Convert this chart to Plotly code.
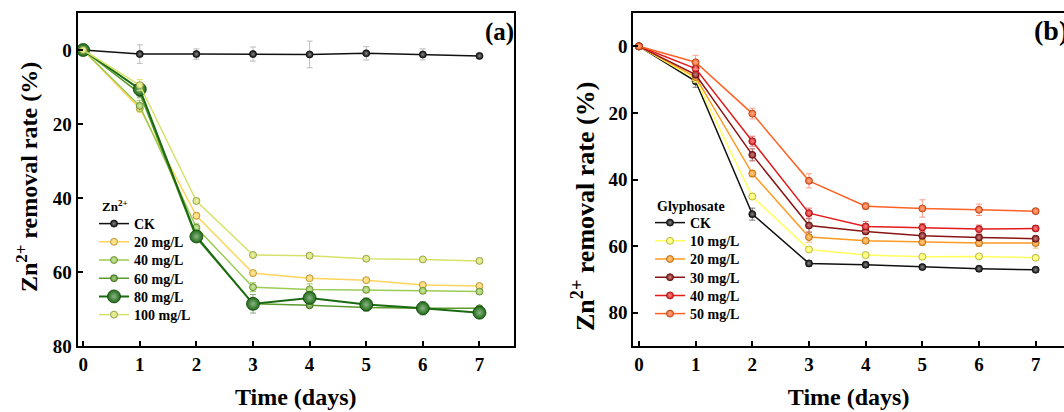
import plotly.graph_objects as go

days = [0, 1, 2, 3, 4, 5, 6, 7]

# Panel (a): Zn2+ treatments
a_names = ["CK", "20 mg/L", "40 mg/L", "60 mg/L", "80 mg/L", "100 mg/L"]
a_ck = [0, 1.1, 1.1, 1.1, 1.2, 0.9, 1.2, 1.6]
a_20 = [0, 15.8, 44.8, 60.3, 61.7, 62.2, 63.5, 63.8]
a_40 = [0, 15.1, 48.0, 64.1, 64.7, 64.8, 65.1, 65.3]
a_60 = [0, 11.7, 50.8, 68.6, 69.0, 69.6, 69.8, 69.8]
a_80 = [0, 10.6, 50.4, 68.6, 67.0, 68.8, 69.8, 71.0]
a_100 = [0, 9.5, 40.8, 55.4, 55.6, 56.4, 56.6, 57.0]
a_err_ck = [0, 2.5, 1.4, 1.9, 3.6, 1.8, 1.5, 0.3]
a_err_20 = [0, 1.0, 0.8, 0.7, 0.6, 0.5, 0.5, 0.4]
a_err_40 = [0, 1.5, 1.0, 1.2, 1.5, 0.8, 0.7, 0.6]
a_err_60 = [0, 1.2, 0.8, 0.8, 0.6, 0.7, 0.6, 0.5]
a_err_80 = [0, 1.5, 1.0, 2.5, 1.0, 1.8, 1.8, 1.2]
a_err_100 = [0, 1.5, 0.6, 0.5, 0.5, 0.5, 0.5, 0.5]

# Panel (b): Glyphosate treatments
b_names = ["CK", "10 mg/L", "20 mg/L", "30 mg/L", "40 mg/L", "50 mg/L"]
b_ck = [0, 10.5, 50.4, 65.2, 65.6, 66.3, 66.8, 67.1]
b_10 = [0, 9.8, 45.1, 61.0, 62.7, 63.2, 63.1, 63.5]
b_20 = [0, 9.2, 38.2, 57.3, 58.4, 58.8, 59.1, 59.1]
b_30 = [0, 8.5, 32.6, 53.8, 55.6, 56.9, 57.4, 57.8]
b_40 = [0, 6.7, 28.5, 50.1, 54.1, 54.4, 54.9, 54.7]
b_50 = [0, 4.8, 20.2, 40.4, 48.0, 48.7, 49.1, 49.5]
b_err_ck = [0, 1.8, 1.8, 0.8, 0.8, 0.7, 0.8, 0.7]
b_err_10 = [0, 1.0, 1.0, 0.8, 0.8, 0.7, 0.6, 0.6]
b_err_20 = [0, 1.0, 1.0, 1.5, 0.8, 1.0, 1.0, 1.5]
b_err_30 = [0, 1.0, 1.8, 2.0, 0.8, 0.8, 0.8, 0.8]
b_err_40 = [0, 1.0, 1.5, 1.5, 1.5, 1.2, 1.2, 0.8]
b_err_50 = [0, 2.1, 1.6, 2.1, 0.9, 2.6, 1.7, 0.6]

x_ticks = [0, 1, 2, 3, 4, 5, 6, 7]
y_ticks_a = [0, 20, 40, 60, 80]
y_ticks_b = [0, 20, 40, 60, 80]

FONT = "Liberation Serif, Times New Roman, serif"
W, H = 1064, 412

a_series = [
    (a_names[0], a_ck, a_err_ck, "#111111", "#BBBBBB", 7, 1.5),
    (a_names[1], a_20, a_err_20, "#FFD45A", "#FFD45A", 7, 1.5),
    (a_names[2], a_40, a_err_40, "#9CCB55", "#9CCB55", 7, 1.5),
    (a_names[3], a_60, a_err_60, "#5C9A2C", "#8DB870", 7, 1.5),
    (a_names[4], a_80, a_err_80, "#1B6A12", "#8AA88A", 13, 2),
    (a_names[5], a_100, a_err_100, "#D6E36A", "#D6E36A", 7, 1.5),
]
b_series = [
    (b_names[0], b_ck, b_err_ck, "#111111", "#777777", 7, 1.5),
    (b_names[1], b_10, b_err_10, "#FFFF5E", "#FFFF9A", 7, 1.5),
    (b_names[2], b_20, b_err_20, "#FF9A22", "#FFB870", 7, 1.5),
    (b_names[3], b_30, b_err_30, "#8A1414", "#B06060", 7, 1.5),
    (b_names[4], b_40, b_err_40, "#E41A1C", "#F07070", 7, 1.5),
    (b_names[5], b_50, b_err_50, "#FF6224", "#FF9A8A", 7, 1.5),
]


def lighten(hexc, f=0.6):
    h = hexc.lstrip("#")
    r, g, b = int(h[0:2], 16), int(h[2:4], 16), int(h[4:6], 16)
    r = int(r + (255 - r) * f)
    g = int(g + (255 - g) * f)
    b = int(b + (255 - b) * f)
    return f"#{r:02X}{g:02X}{b:02X}"


def darken(hexc, f=0.35):
    h = hexc.lstrip("#")
    r, g, b = int(h[0:2], 16), int(h[2:4], 16), int(h[4:6], 16)
    return f"#{int(r*(1-f)):02X}{int(g*(1-f)):02X}{int(b*(1-f)):02X}"


fig = go.Figure()
legends = {}
LEG_FONT = dict(family=FONT, size=14, color="black", weight="bold")
ITEM_STEP = 18.2


def add_panel(series, xa, ya, leg_x, first_center_y, start_idx):
    for i, (name, ys, err, col, ecol, msize, lw) in enumerate(series):
        lid = "legend" if start_idx + i == 1 else f"legend{start_idx + i}"
        fig.add_trace(go.Scatter(
            x=days, y=ys, name=name, mode="lines+markers", showlegend=True,
            line=dict(color=col, width=lw),
            marker=dict(size=msize, color=col,
                        gradient=dict(type="radial", color=lighten(col, 0.5)),
                        line=dict(color=darken(col), width=0.8)),
            error_y=dict(type="data", array=err, visible=True, color=ecol, thickness=1, width=3),
            xaxis=xa, yaxis=ya, legend=lid,
        ))
        cy = first_center_y + i * ITEM_STEP
        legends[lid] = dict(
            x=leg_x / W, y=(H - cy) / H, xanchor="left", yanchor="middle",
            bgcolor="rgba(0,0,0,0)", borderwidth=0, font=LEG_FONT, itemwidth=30,
            visible=True,
        )


add_panel(a_series, "x", "y", 94, 224, 1)
add_panel(b_series, "x2", "y2", 650, 223, 7)

axis_common = dict(
    showline=True, linecolor="black", linewidth=2, automargin=False,
    ticks="inside", ticklen=5, tickwidth=2, tickcolor="black",
    showgrid=False, zeroline=False,
    tickfont=dict(family=FONT, size=19, color="black", weight="bold"),
    title_font=dict(family=FONT, size=24, color="black", weight="bold"),
)

ytitle = "Zn<sup>2+</sup> removal rate (%)"

fig.update_layout(
    width=W, height=H, showlegend=True,
    margin=dict(l=0, r=0, t=0, b=0),
    paper_bgcolor="white", plot_bgcolor="white",
    font=dict(family=FONT, color="black"),
    xaxis=dict(domain=[77.5 / W, 514 / W], range=[-0.1, 7.61],
               tickvals=x_ticks, mirror=True, anchor="y",
               title=dict(text="Time (days)", standoff=14), **axis_common),
    yaxis=dict(domain=[66 / H, 399 / H], range=[80, -10],
               tickvals=y_ticks_a, mirror=True, anchor="x", **axis_common),
    xaxis2=dict(domain=[633.3 / W, 1.0], range=[-0.1, 7.5],
                tickvals=x_ticks, mirror=True, anchor="y2",
                title=dict(text="Time (days)", standoff=14), **axis_common),
    yaxis2=dict(domain=[66 / H, 399 / H], range=[90, -10],
                tickvals=y_ticks_b, mirror=False, anchor="x2", **axis_common),
    annotations=[
        dict(text=ytitle, x=27 / W, y=(H - 177) / H, xref="paper", yref="paper",
             xanchor="center", yanchor="middle", textangle=-90, showarrow=False,
             font=dict(family=FONT, size=24, color="black", weight="bold")),
        dict(text=ytitle, x=583 / W, y=(H - 207) / H, xref="paper", yref="paper",
             xanchor="center", yanchor="middle", textangle=-90, showarrow=False,
             font=dict(family=FONT, size=26, color="black", weight="bold")),
        dict(text="(a)", x=483 / W, y=(H - 32) / H, xref="paper", yref="paper",
             xanchor="left", yanchor="middle", showarrow=False,
             font=dict(family=FONT, size=25, color="black", weight="bold")),
        dict(text="(b)", x=1032 / W, y=(H - 31) / H, xref="paper", yref="paper",
             xanchor="left", yanchor="middle", showarrow=False,
             font=dict(family=FONT, size=28, color="black", weight="bold")),
        dict(text="Zn<sup>2+</sup>", x=100 / W, y=(H - 206) / H, xref="paper", yref="paper",
             xanchor="left", yanchor="middle", showarrow=False,
             font=dict(family=FONT, size=13, color="black", weight="bold")),
        dict(text="Glyphosate", x=655 / W, y=(H - 206) / H, xref="paper", yref="paper",
             xanchor="left", yanchor="middle", showarrow=False,
             font=dict(family=FONT, size=14, color="black", weight="bold")),
    ],
)
fig.update_layout(**legends)

fig.write_html(
    "out.html",
    config={"displayModeBar": False},
    post_script="document.body.style.margin='0';document.body.style.padding='0';"
                "document.body.style.overflow='hidden';",
)
